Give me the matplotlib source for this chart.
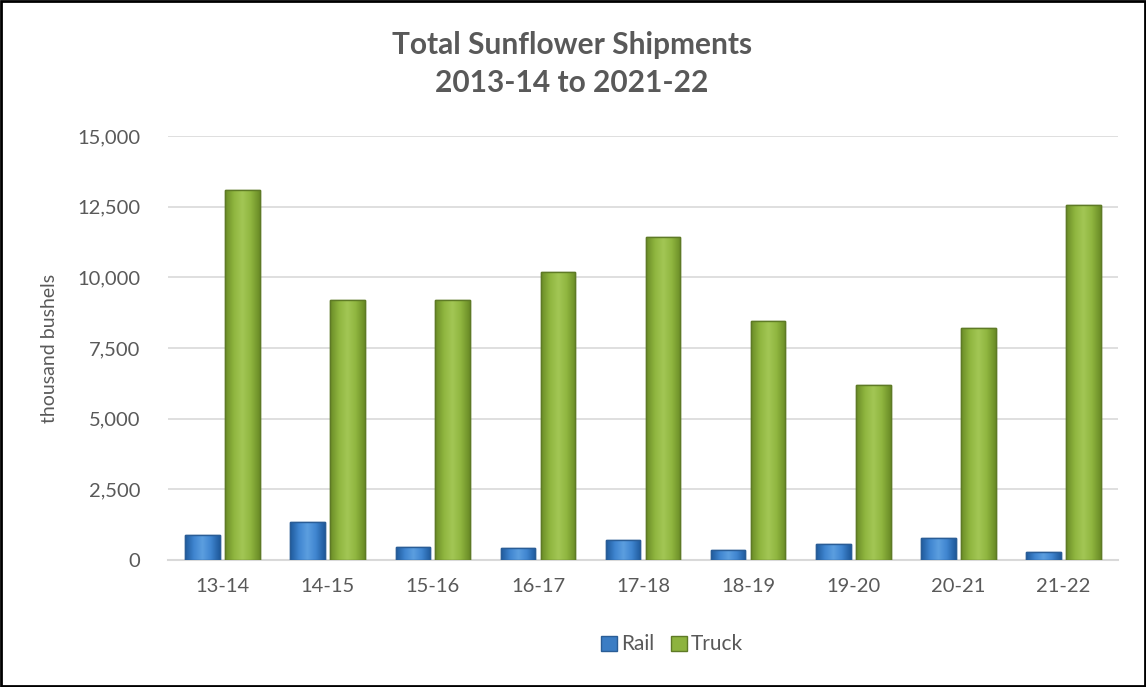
import matplotlib
matplotlib.use("Agg")
import matplotlib.pyplot as plt
import numpy as np
from matplotlib.patches import Rectangle
from matplotlib.colors import LinearSegmentedColormap
from matplotlib.ticker import FuncFormatter

categories = ["13-14", "14-15", "15-16", "16-17", "17-18", "18-19", "19-20", "20-21", "21-22"]
rail = [890, 1330, 470, 420, 700, 350, 560, 770, 280]
truck = [13100, 9180, 9180, 10170, 11430, 8440, 6180, 8220, 12560]
yticks = [0, 2500, 5000, 7500, 10000, 12500, 15000]

plt.rcParams['font.family'] = ['Lato', 'DejaVu Sans']
txt = '#595959'

fig = plt.figure(figsize=(11.46, 6.87), dpi=100)
ax = fig.add_axes([0.1466, 0.1849, 0.829, 0.6172])

x = np.arange(len(categories))
w = 0.33
off = 0.19
b1 = ax.bar(x - off, rail, w, color='#3b7dc4', edgecolor='#2a5d96', linewidth=1.0, label='Rail', zorder=3)
b2 = ax.bar(x + off, truck, w, color='#8db33e', edgecolor='#5e7a26', linewidth=1.0, label='Truck', zorder=3)

xlim = (-0.52, len(categories) - 0.48)
ylim = (0, 15000)

cm_blue = LinearSegmentedColormap.from_list('b', ['#1f5a9c', '#3f85cf', '#5c9fe0', '#3f85cf', '#1f5a9c'])
cm_green = LinearSegmentedColormap.from_list('g', ['#6a8c26', '#8fb53f', '#a3c755', '#8fb53f', '#6a8c26'])
grad = np.linspace(0, 1, 64).reshape(1, -1)
for bars, cmap in ((b1, cm_blue), (b2, cm_green)):
    for r in bars:
        x0, y0, ww, hh = r.get_x(), r.get_y(), r.get_width(), r.get_height()
        im = ax.imshow(grad, cmap=cmap, extent=(x0, x0 + ww, y0, y0 + hh), aspect='auto',
                       interpolation='bicubic', zorder=3.2)
        im.set_clip_path(r)
        ax.add_patch(Rectangle((x0, y0), ww, hh, fill=False, edgecolor=r.get_edgecolor(),
                               linewidth=1.0, zorder=3.4))

ax.set_ylim(*ylim)
ax.set_xlim(*xlim)
ax.set_yticks(yticks)
ax.yaxis.set_major_formatter(FuncFormatter(lambda v, p: f"{int(v):,}"))
ax.set_xticks(x)
ax.set_xticklabels(categories)
ax.grid(axis='y', color='#d9d9d9', linewidth=1.2, zorder=0)
for s in ['top', 'right', 'left']:
    ax.spines[s].set_visible(False)
ax.spines['bottom'].set_color('#d9d9d9')
ax.spines['bottom'].set_linewidth(1.5)
ax.tick_params(axis='both', length=0, labelsize=14.5, colors=txt)
ax.tick_params(axis='y', pad=20)
ax.tick_params(axis='x', pad=13)
ax.set_ylabel('thousand bushels', fontsize=14, color=txt, labelpad=14)

fig.text(0.499, 0.934, 'Total Sunflower Shipments', ha='center', va='center', fontsize=21.5, color=txt, fontweight='bold')
fig.text(0.499, 0.879, '2013-14 to 2021-22', ha='center', va='center', fontsize=21.5, color=txt, fontweight='bold')

leg = fig.legend(handles=[b1, b2], labels=['Rail', 'Truck'], loc='center', bbox_to_anchor=(0.5865, 0.062),
                 ncol=2, frameon=False, fontsize=15, handlelength=0.75, handleheight=0.75,
                 handletextpad=0.2, columnspacing=0.8)
for t in leg.get_texts():
    t.set_color(txt)

fig.add_artist(Rectangle((0.001, 0.0015), 0.998, 0.997, transform=fig.transFigure, fill=False,
                         edgecolor='black', linewidth=2))

fig.savefig('out.png', dpi=100)
